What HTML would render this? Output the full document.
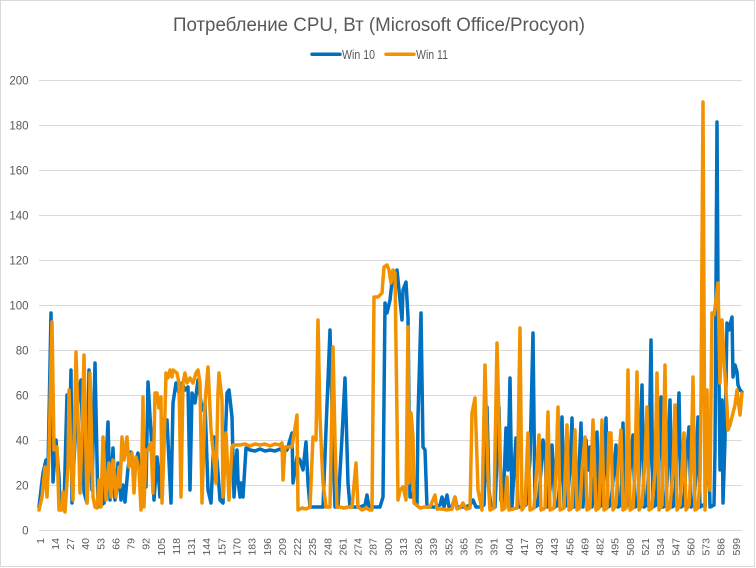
<!DOCTYPE html>
<html>
<head>
<meta charset="utf-8">
<style>
html,body{margin:0;padding:0;background:#fff;}
svg{display:block;}
text{font-family:"Liberation Sans","DejaVu Sans",sans-serif;fill:#595959;}
</style>
</head>
<body>
<svg width="756" height="568" viewBox="0 0 756 568" xmlns="http://www.w3.org/2000/svg">
<rect x="0.5" y="0.5" width="754" height="566" fill="#fff" stroke="#d9d9d9" stroke-width="1"/>
<text x="379" y="31" font-size="19" text-anchor="middle" textLength="412" lengthAdjust="spacingAndGlyphs">Потребление CPU, Вт (Microsoft Office/Procyon)</text>
<line x1="312" y1="54.3" x2="340" y2="54.3" stroke="#0070C0" stroke-width="3.5" stroke-linecap="round"/>
<text x="342" y="59" font-size="12.5" textLength="33" lengthAdjust="spacingAndGlyphs">Win 10</text>
<line x1="386" y1="54.3" x2="414" y2="54.3" stroke="#F39200" stroke-width="3.5" stroke-linecap="round"/>
<text x="416" y="59" font-size="12.5" textLength="32" lengthAdjust="spacingAndGlyphs">Win 11</text>
<path stroke="#d9d9d9" stroke-width="1" fill="none" d="M39 80.5H742M39 125.5H742M39 170.5H742M39 215.5H742M39 260.5H742M39 305.5H742M39 350.5H742M39 395.5H742M39 440.5H742M39 485.5H742M39 530.5H742"/>
<g font-size="11.5" text-anchor="end" transform="translate(28.5,0)">
<text y="84.5">200</text>
<text y="129.5">180</text>
<text y="174.5">160</text>
<text y="219.5">140</text>
<text y="264.5">120</text>
<text y="309.5">100</text>
<text y="354.5">80</text>
<text y="399.5">60</text>
<text y="444.5">40</text>
<text y="489.5">20</text>
<text y="534.5">0</text>
</g>
<g font-size="10.5" text-anchor="end" transform="rotate(-90) translate(-538,0)">
<text y="43.8">1</text>
<text y="58.9">14</text>
<text y="74.1">27</text>
<text y="89.2">40</text>
<text y="104.3">53</text>
<text y="119.5">66</text>
<text y="134.6">79</text>
<text y="149.7">92</text>
<text y="164.8">105</text>
<text y="180">118</text>
<text y="195.1">131</text>
<text y="210.2">144</text>
<text y="225.4">157</text>
<text y="240.5">170</text>
<text y="255.6">183</text>
<text y="270.8">196</text>
<text y="285.9">209</text>
<text y="301">222</text>
<text y="316.1">235</text>
<text y="331.3">248</text>
<text y="346.4">261</text>
<text y="361.5">274</text>
<text y="376.7">287</text>
<text y="391.8">300</text>
<text y="406.9">313</text>
<text y="422.1">326</text>
<text y="437.2">339</text>
<text y="452.3">352</text>
<text y="467.4">365</text>
<text y="482.6">378</text>
<text y="497.7">391</text>
<text y="512.8">404</text>
<text y="528">417</text>
<text y="543.1">430</text>
<text y="558.2">443</text>
<text y="573.4">456</text>
<text y="588.5">469</text>
<text y="603.6">482</text>
<text y="618.7">495</text>
<text y="633.9">508</text>
<text y="649">521</text>
<text y="664.1">534</text>
<text y="679.3">547</text>
<text y="694.4">560</text>
<text y="709.5">573</text>
<text y="724.7">586</text>
<text y="739.8">599</text>
</g>
<polyline fill="none" stroke="#0070C0" stroke-width="3.5" stroke-linejoin="round" stroke-linecap="round" points="39,507 43,473 46,460 48,470 51,313 53,482 56,440 59,477 60,508 64,507 67,395 69,460 71,370 72,503 75,440 79,388 81,380 84,492 87,503 89,370 92,490 95,363 98,507 101,505 104,503 108,422 110,500 113,448 115,500 118,463 121,500 123,485 125,502 128,468 131,452 134,467 138,453 141,483 144,463 146,487 148,382 152,450 154,500 157,457 160,497 163,420 167,420 171,503 173,403 176,383 179,393 182,383 185,390 188,387 190,490 192,393 195,403 198,380 202,410 205,403 208,490 211,503 214,437 217,460 220,500 223,503 227,393 229,390 232,417 234,497 237,450 238,480 240,497 241,483 243,497 246,448 250,450 255,451 260,449 265,451 270,450 275,451 280,449 283,452 287,450 292,433 293,483 297,457 300,460 303,470 306,442 308,483 310,507 315,507 320,507 323,507 326,430 330,330 333,450 335,507 338,507 342,437 345,378 348,483 350,507 355,507 360,507 365,505 367,495 369,507 375,507 380,507 383,497 385,303 387,313 390,300 393,273 395,283 397,270 399,290 402,320 403,290 406,282 408,317 410,497 413,497 415,483 417,505 418,417 421,313 423,447 425,450 427,507 430,507 435,507 440,505 442,497 444,507 447,495 449,507 452,507 455,497 457,507 462,507 466,507 470,505 473,500 476,507 480,507 484,505 487,407 489,490 491,507 495,507 499,407 501,500 503,507 506,428 508,470 510,378 512,507 514,470 516,438 518,507 522,507 526,505 530,460 533,333 535,507 538,505 541,470 543,440 545,450 547,507 550,490 552,445 555,507 558,505 560,480 562,417 564,507 567,505 570,470 572,418 574,507 577,505 579,470 581,423 583,507 586,440 588,470 590,447 592,507 594,490 597,432 599,507 602,505 604,470 606,418 608,507 611,505 613,480 616,445 618,507 621,505 623,423 625,507 628,505 630,470 633,435 635,507 638,505 640,450 642,385 644,507 647,505 649,460 651,340 653,507 656,505 658,470 661,397 663,507 666,505 668,460 670,400 672,507 675,505 677,440 679,393 681,507 684,505 686,460 689,427 691,507 694,505 696,470 698,417 700,507 703,505 705,507 706,470 708,418 710,507 714,505 715,450 717,122 718,290 720,470 722,400 723,503 725,440 727,323 729,330 730,325 732,317 733,377 735,365 737,372 738,385 740,390 742,392"/>
<polyline fill="none" stroke="#F39200" stroke-width="3.5" stroke-linejoin="round" stroke-linecap="round" points="39,510 42,497 45,467 47,497 49,453 52,322 54,450 57,447 59,510 62,510 63,492 65,512 68,467 69,390 71,457 73,500 76,352 78,417 80,493 82,433 84,355 87,503 89,467 90,373 93,497 95,507 97,508 99,480 101,507 103,437 106,500 109,463 111,497 113,460 116,497 119,467 120,487 122,437 124,460 127,437 129,467 132,453 134,493 136,457 139,470 141,510 143,397 144,507 146,450 148,450 151,443 153,493 155,393 157,393 159,408 161,397 162,503 164,450 166,373 168,378 170,370 172,377 173,370 177,373 179,383 181,497 183,383 185,373 187,383 190,378 193,383 196,373 198,370 200,383 202,503 205,403 208,367 211,430 213,450 216,483 218,393 219,373 222,400 223,497 226,433 228,477 229,500 232,447 233,445 240,445 245,444 250,446 255,444 260,445 265,444 270,446 275,444 280,445 282,443 283,480 285,447 290,447 292,447 297,415 298,510 302,508 306,509 310,507 313,437 316,440 318,320 320,417 321,440 323,483 326,507 330,507 333,347 335,440 337,507 340,507 344,508 348,507 352,507 356,463 358,507 362,510 366,508 370,510 372,510 374,297 378,297 382,293 384,267 387,265 389,270 391,283 393,270 395,273 397,417 398,500 400,490 403,487 406,500 408,327 409,483 411,413 413,437 414,503 420,508 425,507 430,507 435,495 437,509 442,509 447,510 452,509 455,497 457,509 460,508 463,503 466,509 470,508 472,413 475,398 478,490 482,510 485,365 488,477 490,510 494,508 497,343 500,460 502,510 505,508 507,477 509,510 513,509 517,508 520,328 522,510 525,505 528,433 530,510 534,508 536,480 539,435 541,510 545,508 548,412 550,510 554,508 556,470 558,407 560,510 564,508 567,425 569,510 572,508 575,430 577,510 580,508 582,470 585,437 587,510 590,508 593,420 596,510 599,508 602,420 604,510 607,508 609,433 611,433 613,510 616,505 618,470 621,430 623,510 626,508 628,370 630,510 633,508 635,470 637,372 639,510 642,505 645,460 647,407 649,510 652,508 655,470 657,373 659,510 662,505 665,365 667,510 670,508 673,470 675,405 677,510 680,505 682,470 684,433 686,510 689,505 691,470 693,377 695,510 698,508 700,480 701,400 703,102 705,510 707,390 708,470 710,490 712,313 714,315 716,300 718,283 720,383 722,320 724,360 727,407 728,430 730,425 732,417 735,405 737,390 740,415 742,393"/>
</svg>
</body>
</html>
